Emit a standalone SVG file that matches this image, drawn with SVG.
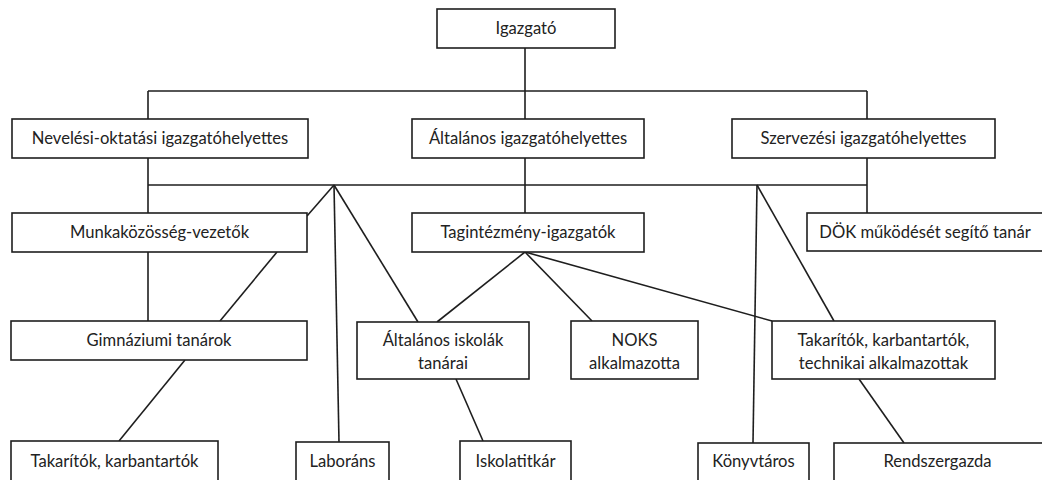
<svg xmlns="http://www.w3.org/2000/svg" width="1042" height="480" viewBox="0 0 1042 480">
<style>
.box{fill:#fff;stroke:#1e1e1e;stroke-width:1.6}
.t{font-family:Lato,"Open Sans","Liberation Sans",sans-serif;font-size:16.6px;fill:#222;text-anchor:middle}
.c{stroke:#1e1e1e;stroke-width:1.6;fill:none}
</style>
<rect width="1042" height="480" fill="#fff"/>
<g id="connectors">
<line class="c" x1="525" y1="48" x2="525" y2="119"/>
<line class="c" x1="148" y1="91" x2="867" y2="91"/>
<line class="c" x1="148" y1="91" x2="148" y2="119"/>
<line class="c" x1="867" y1="91" x2="867" y2="119"/>
<line class="c" x1="148" y1="158" x2="148" y2="213"/>
<line class="c" x1="525" y1="158" x2="525" y2="213"/>
<line class="c" x1="867" y1="158" x2="867" y2="213"/>
<line class="c" x1="148" y1="185" x2="867" y2="185"/>
<line class="c" x1="334" y1="185" x2="307" y2="216"/>
<line class="c" x1="334" y1="185" x2="339" y2="442"/>
<line class="c" x1="334" y1="185" x2="418" y2="322"/>
<line class="c" x1="757" y1="185" x2="753" y2="443"/>
<line class="c" x1="757" y1="185" x2="834" y2="321"/>
<line class="c" x1="148" y1="252" x2="148" y2="321"/>
<line class="c" x1="277" y1="252" x2="220" y2="321"/>
<line class="c" x1="185" y1="360" x2="119" y2="441"/>
<line class="c" x1="525" y1="252" x2="437" y2="322"/>
<line class="c" x1="525" y1="252" x2="592" y2="321"/>
<line class="c" x1="525" y1="252" x2="772" y2="321"/>
<line class="c" x1="456" y1="379" x2="483" y2="441"/>
<line class="c" x1="859" y1="379" x2="904" y2="443"/>
</g>
<g id="igazgato"><rect class="box" x="437" y="9" width="178" height="39"/><text class="t" x="526" y="34">Igazgató</text></g>
<g id="nevelesi"><rect class="box" x="12" y="119" width="296" height="39"/><text class="t" x="160" y="144">Nevelési-oktatási igazgatóhelyettes</text></g>
<g id="altalanos-igh"><rect class="box" x="412" y="119" width="232" height="39"/><text class="t" x="528" y="144">Általános igazgatóhelyettes</text></g>
<g id="szervezesi"><rect class="box" x="732" y="119" width="263" height="39"/><text class="t" x="863.5" y="144">Szervezési igazgatóhelyettes</text></g>
<g id="munkakozosseg"><rect class="box" x="12" y="213" width="295" height="39"/><text class="t" x="159.5" y="238">Munkaközösség-vezetők</text></g>
<g id="tagintezmeny"><rect class="box" x="412" y="213" width="232" height="39"/><text class="t" x="528" y="238">Tagintézmény-igazgatók</text></g>
<g id="dok"><rect class="box" x="807" y="213" width="245" height="38"/><text class="t" x="925" y="238">DÖK működését segítő tanár</text></g>
<g id="gimnaziumi"><rect class="box" x="11" y="321" width="296" height="39"/><text class="t" x="159" y="346">Gimnáziumi tanárok</text></g>
<g id="altalanos-iskolak"><rect class="box" x="357" y="322" width="172" height="57"/><text class="t" x="443" y="346">Általános iskolák</text><text class="t" x="443" y="369">tanárai</text></g>
<g id="noks"><rect class="box" x="571" y="321" width="127" height="58"/><text class="t" x="634.5" y="346">NOKS</text><text class="t" x="634.5" y="369">alkalmazotta</text></g>
<g id="takaritok-tech"><rect class="box" x="772" y="321" width="223" height="58"/><text class="t" x="883.5" y="346">Takarítók, karbantartók,</text><text class="t" x="883.5" y="369">technikai alkalmazottak</text></g>
<g id="takaritok"><rect class="box" x="11" y="441" width="207" height="45"/><text class="t" x="114.5" y="467">Takarítók, karbantartók</text></g>
<g id="laborans"><rect class="box" x="296" y="442" width="93" height="45"/><text class="t" x="342.5" y="467">Laboráns</text></g>
<g id="iskolatitkar"><rect class="box" x="460" y="441" width="111" height="45"/><text class="t" x="515.5" y="467">Iskolatitkár</text></g>
<g id="konyvtaros"><rect class="box" x="698" y="443" width="111" height="45"/><text class="t" x="753.5" y="467">Könyvtáros</text></g>
<g id="rendszergazda"><rect class="box" x="834" y="443" width="210" height="45"/><text class="t" x="937.5" y="467">Rendszergazda</text></g>
</svg>
